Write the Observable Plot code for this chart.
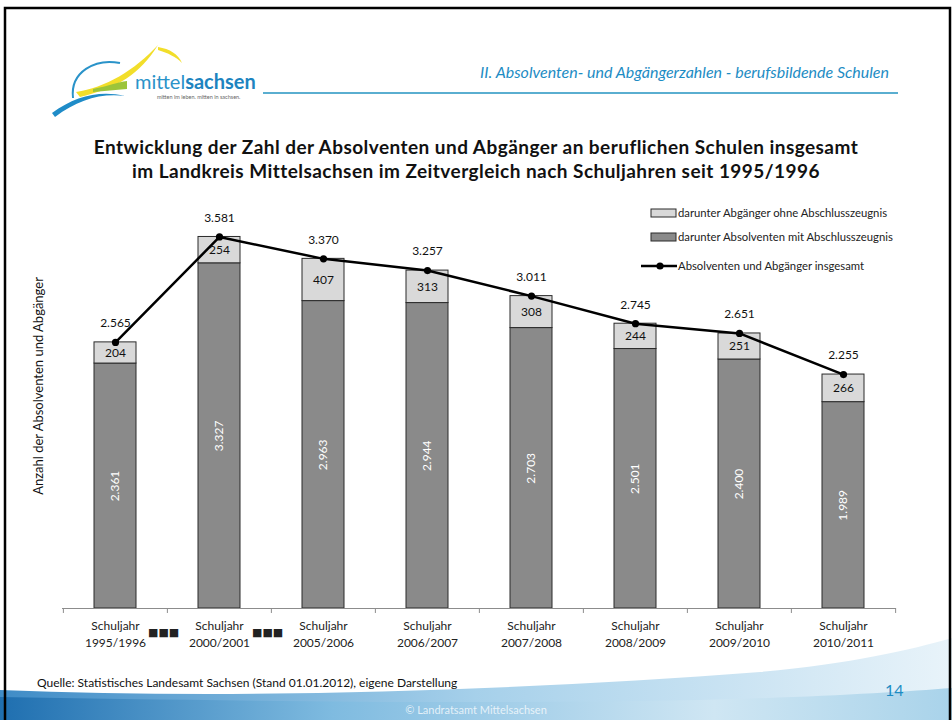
<!DOCTYPE html>
<html><head><meta charset="utf-8">
<script src="https://cdn.jsdelivr.net/npm/d3@7"></script>
<script src="https://cdn.jsdelivr.net/npm/@observablehq/plot@0.6"></script>
<style>
body{margin:0;background:#fff;font-family:Lato,"Open Sans",sans-serif;}
#slide{position:relative;width:952px;height:720px;overflow:hidden;background:#fff;}
#slide > *{position:absolute;}
.hdr{right:63px;top:62px;font-style:italic;color:#1d8cc4;font-size:16px;white-space:nowrap;}
.title{left:0;width:952px;top:135px;text-align:center;font-weight:bold;font-size:19px;letter-spacing:0.45px;line-height:24px;color:#111;}
.leg{font-size:11.3px;color:#222;white-space:nowrap;}
.src{left:37px;top:675px;font-size:12px;color:#111;}
.pg{left:885px;top:680px;font-size:16px;color:#1d8cc4;}
.copy{left:0;width:952px;top:703px;text-align:center;font-size:11px;color:rgba(255,255,255,0.75);}
</style></head>
<body><div id="slide"></div>
<script>
const years = ["1995/1996","2000/2001","2005/2006","2006/2007","2007/2008","2008/2009","2009/2010","2010/2011"];
const absolventen = [2361,3327,2963,2944,2703,2501,2400,1989];
const abgaenger = [204,254,407,313,308,244,251,266];
const insgesamt = [2565,3581,3370,3257,3011,2745,2651,2255];
const gapAfter = ["1995/1996","2000/2001"];

const de = d3.formatLocale({decimal:",",thousands:".",grouping:[3],currency:["","€"]});
const fmt = de.format(",d");
const data = years.map((y,i)=>({year:y,abs:absolventen[i],abg:abgaenger[i],tot:insgesamt[i]}));

const W=952,H=720,ML=62,MR=56,MT=193,MB=112;
const step=(W-ML-MR)/years.length;
const font="Lato, 'Open Sans', sans-serif";

const chart = Plot.plot({
  width:W,height:H,marginLeft:ML,marginRight:MR,marginTop:MT,marginBottom:MB,
  style:{fontFamily:font,background:"transparent",overflow:"visible"},
  x:{type:"band",domain:years,paddingInner:0.6,paddingOuter:0.3,axis:null},
  y:{domain:[0,4000],axis:null},
  marks:[
    Plot.barY(data,{x:"year",y1:0,y2:"abs",fill:"#8a8a8a",stroke:"#2a2a2a",strokeWidth:1}),
    Plot.barY(data,{x:"year",y1:"abs",y2:"tot",fill:"#d9d9d9",stroke:"#2a2a2a",strokeWidth:1}),
    Plot.ruleY([0],{stroke:"#8c8c8c",strokeWidth:1}),
    Plot.ruleX(years,{x:d=>d,dx:-step/2,y1:0,y2:-48,stroke:"#8c8c8c"}),
    Plot.ruleX(years.slice(-1),{x:d=>d,dx:step/2,y1:0,y2:-48,stroke:"#8c8c8c"}),
    Plot.line(data,{x:"year",y:"tot",stroke:"#000",strokeWidth:2.5}),
    Plot.dot(data,{x:"year",y:"tot",r:3.6,fill:"#000"}),
    Plot.text(data,{x:"year",y:"tot",text:d=>fmt(d.tot),dy:-19,fontSize:12,fill:"#111"}),
    Plot.text(data,{x:"year",y:d=>d.abs+d.abg/2,text:d=>fmt(d.abg),fontSize:12,fill:"#111"}),
    Plot.text(data,{x:"year",y:d=>d.abs/2,text:d=>fmt(d.abs),rotate:-90,fontSize:12,fill:"#fff"}),
    Plot.text(data,{x:"year",y:0,text:d=>"Schuljahr\n"+d.year,lineAnchor:"top",dy:9,lineHeight:1.45,fontSize:12,fill:"#222"}),
    Plot.text(gapAfter,{x:d=>d,y:0,dx:step/2-4,dy:24,text:()=>"■■■",fontSize:11,fill:"#222",fontFamily:"DejaVu Sans"}),
    Plot.text(["Anzahl der Absolventen und Abgänger"],{frameAnchor:"left",textAnchor:"middle",dx:-24,dy:-15,text:d=>d,rotate:-90,fontSize:13,fill:"#111"})
  ]
});

const slide=document.getElementById("slide");
slide.insertAdjacentHTML("beforeend",`
<svg width="952" height="720" style="left:0;top:0">
  <defs>
    <linearGradient id="band" x1="0" x2="1" y1="0" y2="0">
      <stop offset="0" stop-color="#1f6fb0"/>
      <stop offset="0.35" stop-color="#7fbbe0"/>
      <stop offset="0.75" stop-color="#cfe6f3"/>
      <stop offset="1" stop-color="#a9d3ea"/>
    </linearGradient>
    <linearGradient id="band2" x1="0" x2="1" y1="0" y2="0">
      <stop offset="0" stop-color="#2a7fc0"/>
      <stop offset="0.5" stop-color="#9ccbe8"/>
      <stop offset="1" stop-color="#e6f2f9"/>
    </linearGradient>
  </defs>
  <path d="M0,690 C250,700 520,690 760,672 C850,664 910,650 952,638 L952,720 L0,720 Z" fill="url(#band2)" opacity="0.9"/>
  <path d="M0,697 C200,700 450,705 700,700 C820,697 900,692 952,688 L952,720 L0,720 Z" fill="url(#band)"/>
  <path d="M5,720 L5,8 L950,8 L950,720" fill="none" stroke="#000" stroke-width="2.5"/>
  <line x1="263" y1="93" x2="898" y2="93" stroke="#5aaed0" stroke-width="2"/>
  <!-- logo -->
  <path d="M73,98 C70,72 95,58 120,63" fill="none" stroke="#2a93c9" stroke-width="2"/>
  <path d="M76,92 C105,88 135,70 158,45 C140,74 118,88 80,97 Z" fill="#f2de2a"/>
  <path d="M158,47 C170,49 178,54 182,63 C176,57 168,53 158,50 Z" fill="#f2de2a"/>
  <path d="M93,89 C108,86 118,82 127,81 L127,89 C115,90 105,91 93,92 Z" fill="#9cc43a"/>
  <path d="M52,113 C75,96 100,90 125,96 C100,93 78,100 55,117 Z" fill="#1f8cc8"/>
  <text x="135" y="89" font-family="Lato, sans-serif" font-size="20" fill="#2a93c9">mittel<tspan font-weight="bold" fill="#1d84c0">sachsen</tspan></text>
  <text x="157" y="99" font-family="Lato, sans-serif" font-size="5.5" fill="#666">mitten im leben. mitten in sachsen.</text>
  <!-- legend swatches -->
  <rect x="651" y="209" width="25" height="8" fill="#d9d9d9" stroke="#2a2a2a" stroke-width="1"/>
  <rect x="651" y="233" width="25" height="8" fill="#8a8a8a" stroke="#2a2a2a" stroke-width="1"/>
  <line x1="641" y1="266" x2="677" y2="266" stroke="#000" stroke-width="2.5"/>
  <circle cx="660" cy="266" r="3.6" fill="#000"/>
</svg>`);
slide.appendChild(chart);
chart.style.left="0px";chart.style.top="0px";
slide.insertAdjacentHTML("beforeend",`
<div class="hdr">II. Absolventen- und Abgängerzahlen - berufsbildende Schulen</div>
<div class="title">Entwicklung der Zahl der Absolventen und Abgänger an beruflichen Schulen insgesamt<br>im Landkreis Mittelsachsen im Zeitvergleich nach Schuljahren seit 1995/1996</div>
<div class="leg" style="left:678px;top:206px">darunter Abgänger ohne Abschlusszeugnis</div>
<div class="leg" style="left:678px;top:230px">darunter Absolventen mit Abschlusszeugnis</div>
<div class="leg" style="left:678px;top:259px">Absolventen und Abgänger insgesamt</div>
<div class="src">Quelle: Statistisches Landesamt Sachsen (Stand 01.01.2012), eigene Darstellung</div>
<div class="pg">14</div>
<div class="copy">© Landratsamt Mittelsachsen</div>
`);
</script></body></html>
